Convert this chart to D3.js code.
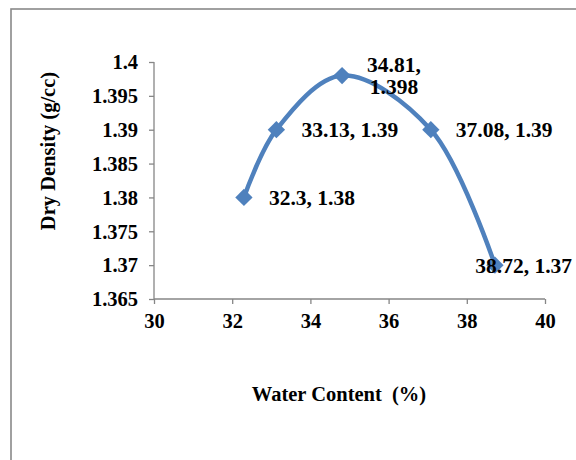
<!DOCTYPE html>
<html>
<head>
<meta charset="utf-8">
<script src="https://cdn.jsdelivr.net/npm/d3@7"></script>
<style>
  html, body { margin: 0; padding: 0; background: #fff; }
  svg { display: block; font-family: "Times New Roman", "Liberation Serif", serif; font-weight: bold; }
</style>
</head>
<body>
<svg id="chart" width="576" height="460"></svg>
<script>
// Compaction test: water content vs dry density
const waterContent = [32.3, 33.13, 34.81, 37.08, 38.72];
const dryDensity   = [1.38, 1.39, 1.398, 1.39, 1.37];
const xTicks = [30, 32, 34, 36, 38, 40];
const yTicks = [1.365, 1.37, 1.375, 1.38, 1.385, 1.39, 1.395, 1.4];
const wrapLabel = [false, false, true, false, false];
const xTitle = "Water Content  (%)";
const yTitle = "Dry Density (g/cc)";

const W = 576, H = 460;
const plot = { left: 154, right: 545, top: 62, bottom: 299 };
const blue = "#4F81BD";
const axisGrey = "#868686";

const svg = d3.select("#chart");

// chart area frame (runs off the right and bottom edges)
svg.append("rect")
  .attr("x", 11).attr("y", 9)
  .attr("width", W + 20).attr("height", H + 20)
  .attr("fill", "#fff").attr("stroke", "#898989").attr("stroke-width", 1.6);

const x = d3.scaleLinear().domain([30, 40]).range([plot.left, plot.right]);
const y = d3.scaleLinear().domain([1.365, 1.4]).range([plot.bottom, plot.top]);

// y axis
const yAxis = svg.append("g")
  .attr("transform", `translate(${plot.left},0)`)
  .call(d3.axisLeft(y).tickValues(yTicks).tickSize(5).tickPadding(11)
    .tickFormat(d => d3.format("")(+d.toFixed(3))));
// x axis
const xAxis = svg.append("g")
  .attr("transform", `translate(0,${plot.bottom})`)
  .call(d3.axisBottom(x).tickValues(xTicks).tickSize(5).tickPadding(6));

[yAxis, xAxis].forEach(g => {
  g.select(".domain").attr("stroke", axisGrey).attr("stroke-width", 1.3);
  g.selectAll(".tick line").attr("stroke", axisGrey).attr("stroke-width", 1.3);
  g.selectAll(".tick text")
    .attr("fill", "#000")
    .style("font-family", "'Times New Roman', 'Liberation Serif', serif")
    .style("font-weight", "bold")
    .style("font-size", "20.5px");
});
// keep the axis lines the full plot length, without outer end caps
yAxis.select(".domain").attr("d", `M0,${plot.top}V${plot.bottom}`);
xAxis.select(".domain").attr("d", `M${plot.left},0H${plot.right}`);
xAxis.selectAll(".tick text").attr("dy", "0.9em");
yAxis.selectAll(".tick text").attr("dy", "0.33em");

// axis titles
svg.append("text")
  .attr("x", 339).attr("y", 401)
  .attr("text-anchor", "middle")
  .style("font-size", "20.5px")
  .style("white-space", "pre")
  .text(xTitle);
svg.append("text")
  .attr("transform", "translate(55,151) rotate(-90)")
  .attr("text-anchor", "middle")
  .style("font-size", "20.5px")
  .text(yTitle);

const pts = waterContent.map((w, i) => ({ w, d: dryDensity[i], wrap: wrapLabel[i] }));

// smoothed series line
const line = d3.line()
  .x(p => x(p.w)).y(p => y(p.d))
  .curve(d3.curveCatmullRom.alpha(0.5));
svg.append("path")
  .datum(pts)
  .attr("d", line)
  .attr("fill", "none")
  .attr("stroke", blue)
  .attr("stroke-width", 4.5)
  .attr("stroke-linejoin", "round");

// diamond markers
const diamond = d3.symbol().type(d3.symbolSquare).size(150);
svg.selectAll("path.marker")
  .data(pts)
  .join("path")
  .attr("class", "marker")
  .attr("d", diamond)
  .attr("transform", p => `translate(${x(p.w)},${y(p.d)}) rotate(45)`)
  .attr("fill", blue);

// data labels, placed to the right of each point, kept inside the chart area
const labelSize = 21.5;
const labels = svg.append("g").style("font-size", labelSize + "px");
pts.forEach(p => {
  const px = x(p.w), py = y(p.d);
  const lines = p.wrap ? [`${p.w},`, `${p.d}`] : [`${p.w}, ${p.d}`];
  const t = labels.append("text").attr("text-anchor", "middle");
  lines.forEach(s => t.append("tspan").text(s));
  const tsp = t.selectAll("tspan").nodes();
  const wMax = d3.max(tsp, n => n.getComputedTextLength());
  let left = px + 25;
  if (left + wMax > W - 4) left = W - 4 - wMax;
  const cx = left + wMax / 2;
  const lh = 22;
  const firstBase = py - (lines.length - 1) * lh / 2 + 7.5;
  tsp.forEach((n, k) => {
    d3.select(n).attr("x", cx).attr("y", firstBase + k * lh);
  });
});
</script>
</body>
</html>
